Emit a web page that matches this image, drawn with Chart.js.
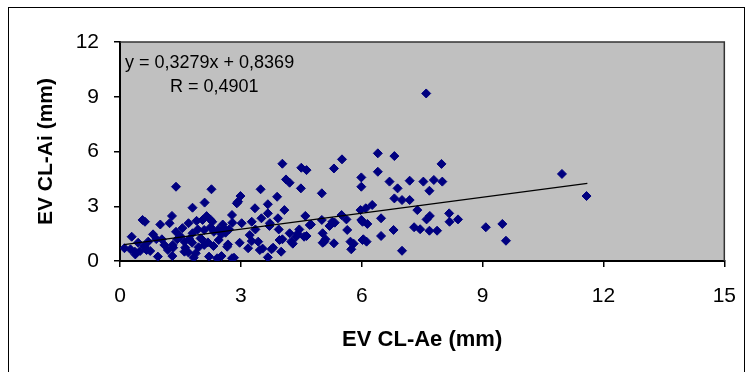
<!DOCTYPE html>
<html>
<head>
<meta charset="utf-8">
<script src="https://cdn.jsdelivr.net/npm/chart.js@4.4.0/dist/chart.umd.min.js"></script>
<style>
    html, body { margin: 0; padding: 0; background: #fff; overflow: hidden; }
    #wrap { position: relative; width: 753px; height: 372px; }
    #frame {
        position: absolute; left: 8px; top: 7px; width: 737px; height: 400px;
        border: 1px solid #000; box-sizing: border-box;
    }
    .eq {
        position: absolute; font-family: "Liberation Sans", Arial, sans-serif;
        font-size: 18px; color: #000; white-space: nowrap; line-height: 1;
    }
</style>
</head>
<body>
<div id="wrap">
    <div id="frame"></div>
    <canvas id="chart" width="753" height="372"></canvas>
    <div class="eq" style="left:125px; top:53px;">y = 0,3279x + 0,8369</div>
    <div class="eq" style="left:170px; top:77px;">R = 0,4901</div>
</div>
<script>
// EV CL-Ae (x) and EV CL-Ai (y)
const evAe = [
    0.11, 0.29, 0.37, 0.56, 0.66, 0.70, 0.82, 0.94, 1.00, 1.10, 1.19, 1.23, 1.29, 1.31, 1.39, 1.39,
    1.60, 1.60, 1.70, 1.80, 1.80, 1.88, 2.00, 2.05, 2.09, 2.09, 2.10, 2.21, 2.27, 2.29, 2.33, 2.41,
    2.58, 2.66, 2.78, 2.78, 2.90,
    0.26, 0.38, 0.61, 0.50, 0.75, 0.62, 1.04, 1.42, 1.32, 1.30, 1.62, 1.70, 1.83, 1.79, 1.93, 2.03,
    2.15, 2.24, 2.32, 2.52, 2.44, 2.52, 2.68, 2.83, 2.62, 2.71, 2.79, 2.97, 2.99, 2.93,
    1.50, 1.72, 1.95, 2.18, 2.45, 2.25, 1.90, 1.55, 2.55, 0.90, 0.45,
    3.02, 3.18, 3.22, 3.27, 3.35, 3.43, 3.47, 3.49, 3.51, 3.67, 3.67, 3.67, 3.72, 3.76, 3.90, 3.92,
    3.96, 4.00, 4.08, 4.12, 4.21, 4.21, 4.25, 4.37, 4.49, 4.57, 4.60, 4.71, 5.01, 5.01, 5.03, 5.07,
    5.27, 5.31, 5.50, 5.64, 5.72, 5.99,
    3.36, 3.54, 3.27, 3.80, 4.03, 4.29, 4.41, 4.45, 4.63, 4.74, 5.03, 5.10, 5.20, 5.33, 5.80, 5.74,
    5.62, 3.94, 3.71, 4.03, 4.50, 4.63, 5.31, 5.51, 6.04,
    6.40, 6.81, 7.98, 6.40, 5.99, 5.99, 6.69, 6.89, 7.19, 7.53, 7.79, 8.00, 7.68, 6.81, 7.00, 7.19,
    6.26, 6.10, 5.97, 7.38, 6.48, 6.02, 6.14, 7.61, 7.69, 8.17, 8.18, 8.39, 7.30, 7.45, 7.68, 7.87,
    6.79, 6.48, 6.02, 6.12, 7.00,
    9.08, 9.49, 9.58, 10.97, 11.58, 7.60
];
const evAi = [
    0.70, 1.33, 0.51, 2.25, 0.60, 1.06, 1.46, 0.24, 2.00, 0.88, 0.60, 2.07, 2.47, 0.88, 1.60, 4.07,
    0.51, 1.06, 2.07, 2.92, 1.52, 0.42, 1.24, 2.25, 0.88, 1.70, 3.20, 0.24, 3.93, 2.15, 1.60, 0.15,
    1.79, 0.78, 2.52, 0.15, 3.16,
    0.64, 0.36, 0.82, 0.55, 0.55, 2.15, 1.19, 1.19, 0.73, 0.27, 0.73, 0.46, 0.18, 1.00, 1.73, 1.19,
    2.46, 2.28, 0.82, 0.27, 1.73, 1.46, 0.91, 0.18, 1.55, 1.73, 2.10, 1.00, 3.56, 3.25,
    1.35, 1.20, 0.75, 1.02, 1.15, 1.85, 2.20, 1.80, 2.00, 1.20, 1.00,
    2.07, 0.70, 1.42, 2.15, 2.89, 1.06, 0.60, 3.93, 2.34, 3.11, 2.61, 0.20, 2.07, 0.64, 3.52, 2.34,
    1.15, 0.51, 2.79, 4.47, 4.29, 1.52, 1.06, 1.33, 3.98, 1.33, 2.47, 1.97, 3.71, 2.25, 1.52, 1.06,
    2.15, 0.97, 2.52, 1.70, 1.06, 2.25,
    1.73, 0.68, 1.09, 0.73, 1.19, 0.95, 1.50, 1.73, 1.37, 2.00, 1.00, 1.19, 1.92, 2.10, 0.95, 0.64,
    2.28, 1.73, 1.92, 5.33, 5.11, 4.98, 5.07, 5.57, 1.19,
    5.90, 5.75, 5.32, 4.89, 4.58, 4.07, 4.35, 3.98, 4.40, 4.35, 4.44, 4.35, 3.85, 3.43, 3.34, 3.34,
    3.07, 2.89, 2.79, 2.79, 2.34, 2.15, 2.03, 2.28, 2.47, 2.61, 2.15, 2.28, 1.85, 1.74, 1.66, 1.66,
    1.70, 1.37, 1.15, 1.06, 0.56,
    1.85, 2.03, 1.11, 4.77, 3.56, 9.18
];

// Trend line ends as drawn in the picture
const trendAe = [0.1, 11.6];
const trendAi = [0.9, 4.25];

const xTicks = [0, 3, 6, 9, 12, 15];
const yTicks = [0, 3, 6, 9, 12];

const FONT = "'Liberation Sans', Arial, sans-serif";

const plotBg = {
    id: "plotBg",
    beforeDraw(chart) {
        const { ctx, chartArea: a } = chart;
        ctx.save();
        ctx.fillStyle = "#c0c0c0";
        ctx.fillRect(a.left, a.top, a.right - a.left, a.bottom - a.top);
        ctx.restore();
    },
    afterDatasetsDraw(chart) {
        const { ctx, chartArea: a } = chart;
        ctx.save();
        ctx.strokeStyle = "#333";
        ctx.lineWidth = 1.5;
        ctx.beginPath();
        ctx.moveTo(a.left, a.top);
        ctx.lineTo(a.right, a.top);
        ctx.lineTo(a.right, a.bottom);
        ctx.stroke();
        ctx.restore();
    },
};

new Chart(document.getElementById("chart"), {
    type: "scatter",
    data: {
        datasets: [
            {
                label: "EV",
                data: evAe.map((x, i) => ({ x: x, y: evAi[i] })),
                pointStyle: "rectRot",
                pointRadius: 4.5,
                borderWidth: 1,
                backgroundColor: "#000080",
                borderColor: "#000080",
                order: 2,
            },
            {
                type: "line",
                label: "trend",
                data: trendAe.map((x, i) => ({ x: x, y: trendAi[i] })),
                borderColor: "#000",
                borderWidth: 1.2,
                pointRadius: 0,
                fill: false,
                order: 1,
            },
        ],
    },
    options: {
        responsive: false,
        animation: false,
        layout: { padding: { left: 0, top: 42, right: 22, bottom: 0 } },
        plugins: { legend: { display: false }, tooltip: { enabled: false } },
        scales: {
            x: {
                type: "linear",
                min: 0, max: 15,
                afterBuildTicks: (s) => { s.ticks = xTicks.map(v => ({ value: v })); },
                afterFit: (s) => { s.height = 111; },
                grid: { drawOnChartArea: false, drawTicks: true, tickLength: 6, color: "#000", lineWidth: 1.5 },
                border: { display: true, color: "#000", width: 2 },
                ticks: { font: { family: FONT, size: 21 }, color: "#000", padding: 17, maxRotation: 0 },
                title: {
                    display: true, text: "EV CL-Ae (mm)", color: "#000",
                    font: { family: FONT, size: 22, weight: "bold" },
                    padding: { top: 0, bottom: 19 },
                },
            },
            y: {
                type: "linear",
                min: 0, max: 12,
                afterBuildTicks: (s) => { s.ticks = yTicks.map(v => ({ value: v })); },
                afterFit: (s) => { s.width = 120; },
                grid: { drawOnChartArea: false, drawTicks: true, tickLength: 6, color: "#000", lineWidth: 1.5 },
                border: { display: true, color: "#000", width: 2 },
                ticks: { font: { family: FONT, size: 21 }, color: "#000", padding: 15 },
                title: {
                    display: true, text: "EV CL-Ai (mm)", color: "#000",
                    font: { family: FONT, size: 21, weight: "bold" },
                    padding: { top: 34, bottom: 0 },
                },
            },
        },
    },
    plugins: [plotBg],
});
</script>
</body>
</html>
